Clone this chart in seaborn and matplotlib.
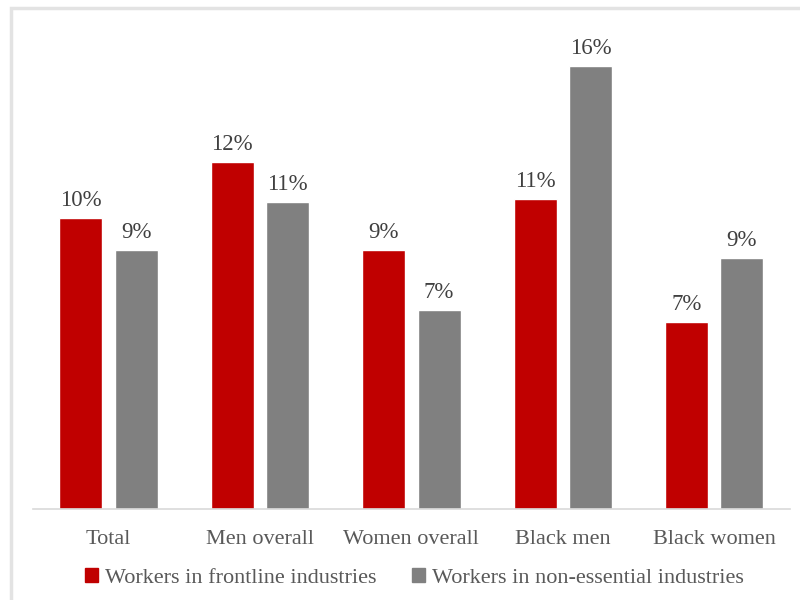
import matplotlib
matplotlib.use("Agg")
import matplotlib.pyplot as plt
import matplotlib.patches as mpatches
import seaborn as sns
import pandas as pd

categories = ["Total", "Men overall", "Women overall", "Black men", "Black women"]
series_names = ["Workers in frontline industries", "Workers in non-essential industries"]
frontline = [10.45, 12.45, 9.3, 11.1, 6.7]
nonessential = [9.3, 11.0, 7.15, 15.9, 9.0]
colors = ["#C00000", "#808080"]

df = pd.DataFrame({
    "category": categories * 2,
    "series": [series_names[0]] * len(categories) + [series_names[1]] * len(categories),
    "value": frontline + nonessential,
})

sns.set_theme(style="white")
plt.rcParams["font.family"] = ["Liberation Serif", "DejaVu Serif"]
text_color = "#595959"
label_color = "#404040"

fig = plt.figure(figsize=(8, 6), dpi=100)
ax = fig.add_axes([0.041, 0.1517, 0.9465, 0.8283])
sns.barplot(data=df, x="category", y="value", hue="series", palette=colors,
            width=0.732, gap=0.224, ax=ax, saturation=1, legend=False)

ax.set_ylim(0, 17.82)
ax.set_xlim(-0.5, len(categories) - 0.5)
ax.set_xlabel("")
ax.set_ylabel("")
ax.set_yticks([])
for s in ["top", "right", "left"]:
    ax.spines[s].set_visible(False)
ax.spines["bottom"].set_color("#D9D9D9")
ax.spines["bottom"].set_linewidth(1.2)
ax.tick_params(axis="x", length=0, pad=15, labelsize=16, labelcolor=text_color)

for cont in ax.containers:
    labels = [f"{round(b.get_height())}%" for b in cont]
    ax.bar_label(cont, labels=labels, padding=5, fontsize=16.5, color=label_color)

handles = [mpatches.Patch(color=c, label=n) for c, n in zip(colors, series_names)]
leg = fig.legend(handles=handles, loc="center", bbox_to_anchor=(0.5175, 0.037), ncol=2,
                 frameon=False, fontsize=16, handlelength=0.6, handleheight=0.6,
                 handletextpad=0.3, columnspacing=1.6, labelcolor=text_color)

frame = mpatches.Rectangle((11 / 800, -0.1), 1.2, 1 - 8 / 600 + 0.1, transform=fig.transFigure,
                           fill=False, edgecolor="#E3E3E3", linewidth=2.5, zorder=-1)
fig.patches.append(frame)

fig.savefig("out.png", dpi=100)
